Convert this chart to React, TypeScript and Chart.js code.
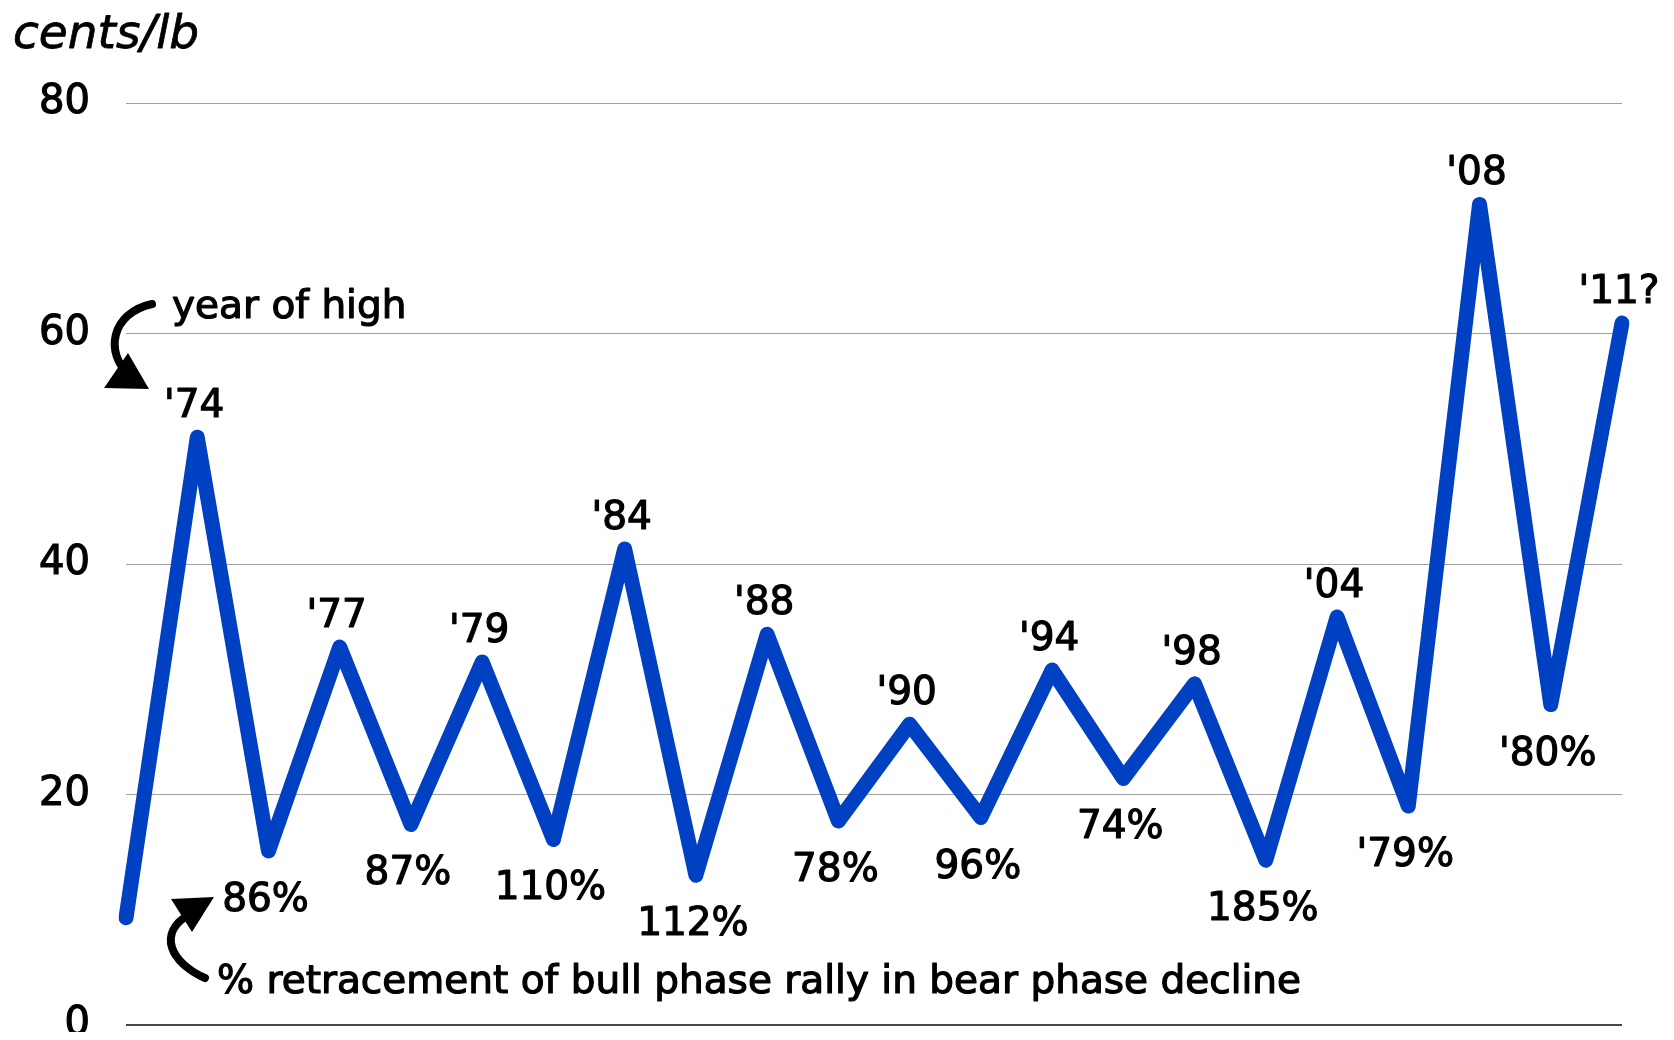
import React, { useEffect, useRef } from "react";
import { Chart, registerables } from "chart.js";

Chart.register(...registerables);

// Phase turning points (cents/lb)
const phases = [
  "start", "'74 high", "low 1", "'77 high", "low 2", "'79 high", "low 3", "'84 high", "low 4",
  "'88 high", "low 5", "'90 high", "low 6", "'94 high", "low 7", "'98 high", "low 8", "'04 high",
  "low 9", "'08 high", "low 10", "'11 high",
];
const prices = [
  9.3, 51.0, 15.1, 32.8, 17.4, 31.5, 16.1, 41.3, 13.0, 33.9, 17.7, 26.1, 18.0, 30.8, 21.4, 29.6,
  14.3, 35.4, 19.0, 71.2, 27.8, 60.9,
];
const pointLabels = [
  "", "'74", "86%", "'77", "87%", "'79", "110%", "'84", "112%", "'88", "78%", "'90", "96%", "'94",
  "74%", "'98", "185%", "'04", "'79%", "'08", "'80%", "'11?",
];
const yTicks = [0, 20, 40, 60, 80];
const unitLabel = "cents/lb";
const highNote = "year of high";
const retraceNote = "% retracement of bull phase rally in bear phase decline";

const FONT = "DejaVu Sans";

function boldText(ctx: CanvasRenderingContext2D, t: string, x: number, y: number, w = 1.2) {
  ctx.lineWidth = w;
  ctx.lineJoin = "round";
  ctx.strokeText(t, x, y);
  ctx.fillText(t, x, y);
}

const labelPlugin = {
  id: "phaseLabels",
  afterDraw(chart: any) {
    const ctx = chart.ctx;
    const meta = chart.getDatasetMeta(0);
    const pts = meta.data;
    ctx.save();
    ctx.fillStyle = "#000";
    ctx.strokeStyle = "#000";
    ctx.font = `39px "${FONT}"`;
    ctx.textAlign = "center";
    ctx.textBaseline = "alphabetic";
    for (let i = 0; i < pts.length; i++) {
      const t = pointLabels[i];
      if (!t) continue;
      const p = pts[i];
      const prev = i > 0 ? prices[i - 1] : -Infinity;
      const next = i < prices.length - 1 ? prices[i + 1] : -Infinity;
      const isPeak = prices[i] > prev && prices[i] > next;
      const y = isPeak ? p.y - 20 : p.y + 60;
      boldText(ctx, t, p.x - 3, y);
    }

    // unit label
    ctx.textAlign = "left";
    ctx.font = `italic 47px "${FONT}"`;
    boldText(ctx, unitLabel, 5, 40, 0.8);

    // notes
    ctx.font = `39px "${FONT}"`;
    boldText(ctx, highNote, 164, 310);
    boldText(ctx, retraceNote, 209, 985);

    // arrow 1
    ctx.lineWidth = 8;
    ctx.lineCap = "round";
    ctx.beginPath();
    ctx.moveTo(144, 296);
    ctx.bezierCurveTo(103, 305, 96, 345, 122, 368);
    ctx.stroke();
    ctx.beginPath();
    ctx.moveTo(141, 381);
    ctx.lineTo(96, 380);
    ctx.lineTo(120, 345);
    ctx.closePath();
    ctx.fill();

    // arrow 2
    ctx.beginPath();
    ctx.moveTo(197, 970);
    ctx.bezierCurveTo(163, 955, 148, 925, 182, 906);
    ctx.stroke();
    ctx.beginPath();
    ctx.moveTo(206, 889);
    ctx.lineTo(163, 891);
    ctx.lineTo(184, 924);
    ctx.closePath();
    ctx.fill();
    ctx.restore();
  },
};

export default function App() {
  const ref = useRef<HTMLCanvasElement>(null);
  useEffect(() => {
    if (!ref.current) return;
    const chart = new Chart(ref.current, {
      type: "line",
      data: {
        labels: phases,
        datasets: [
          {
            data: prices,
            borderColor: "#0040C2",
            borderWidth: 15,
            borderJoinStyle: "round",
            borderCapStyle: "round",
            pointRadius: 0,
            tension: 0,
            fill: false,
          },
        ],
      },
      options: {
        animation: false,
        responsive: false,
        devicePixelRatio: 1,
        layout: { padding: { left: 0, right: 44, top: 95, bottom: 15 } },
        plugins: { legend: { display: false }, tooltip: { enabled: false } },
        scales: {
          x: {
            display: true,
            offset: false,
            ticks: { display: false },
            grid: { display: false, drawTicks: false },
            border: { display: false },
            afterFit: (s: any) => {
              s.height = 0;
            },
          },
          y: {
            min: 0,
            max: 80,
            afterFit: (s: any) => {
              s.width = 118;
            },
            afterBuildTicks: (s: any) => {
              s.ticks = yTicks.map((v) => ({ value: v }));
            },
            border: { display: false },
            grid: {
              drawTicks: true,
              tickLength: 36,
              tickColor: "rgba(0,0,0,0)",
              color: (c: any) => (c.tick && c.tick.value === 0 ? "#4a4a4a" : "#a0a0a0"),
              lineWidth: (c: any) => (c.tick && c.tick.value === 0 ? 2 : 1),
            },
            ticks: {
              padding: 0,
              color: "#000",
              textStrokeColor: "#000",
              textStrokeWidth: 1.2,
              font: { family: FONT, size: 40, lineHeight: 0.3 },
            },
          },
        },
      },
      plugins: [labelPlugin],
    });
    return () => chart.destroy();
  }, []);
  return (
    <div style={{ width: 1658, height: 1024 }}>
      <canvas ref={ref} width={1658} height={1032} style={{ display: "block" }} />
    </div>
  );
}
